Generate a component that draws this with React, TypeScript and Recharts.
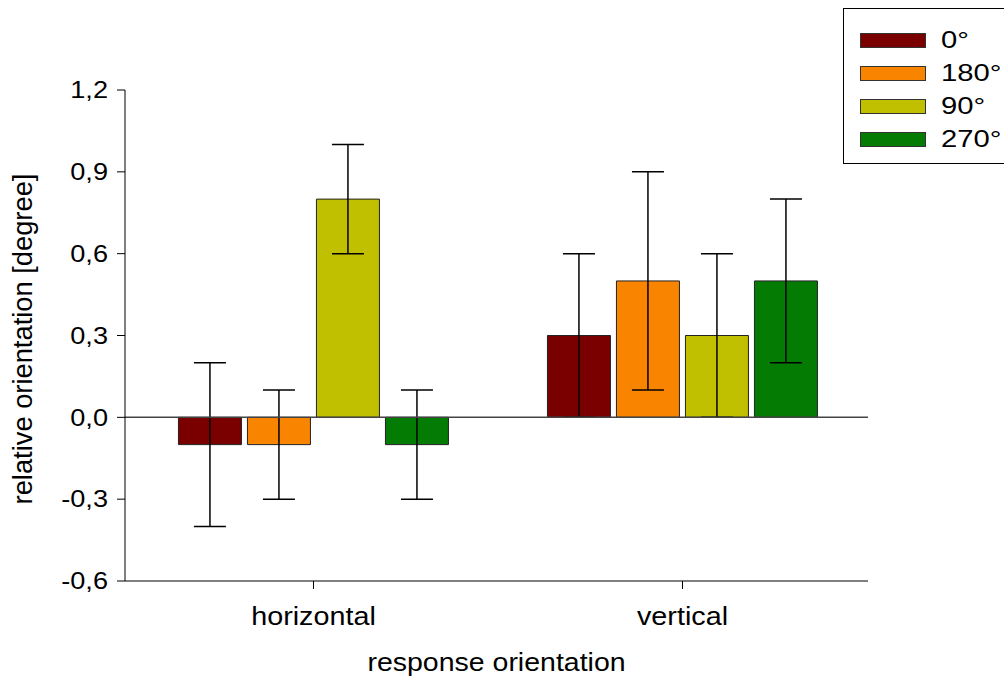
import {
    BarChart, Bar, XAxis, YAxis, ReferenceLine, ErrorBar,
} from "recharts";

const categories = ["horizontal", "vertical"];

const seriesNames = ["0°", "180°", "90°", "270°"];
const seriesColors = ["#7a0000", "#f88400", "#c0c000", "#047c04"];

const means0 = [-0.1, 0.3];
const errors0 = [0.3, 0.3];
const means180 = [-0.1, 0.5];
const errors180 = [0.2, 0.4];
const means90 = [0.8, 0.3];
const errors90 = [0.2, 0.3];
const means270 = [-0.1, 0.5];
const errors270 = [0.2, 0.3];

const yTicks = [-0.6, -0.3, 0, 0.3, 0.6, 0.9, 1.2];

const FONT = '"Liberation Sans", Arial, sans-serif';

const seriesMeans = [means0, means180, means90, means270];
const seriesErrors = [errors0, errors180, errors90, errors270];

const data = categories.map((category, i) => {
    const row: Record<string, string | number> = { category };
    seriesNames.forEach((_name, s) => {
        row[`m${s}`] = seriesMeans[s][i];
        row[`e${s}`] = seriesErrors[s][i];
    });
    return row;
});

function formatTick(v: number) {
    return v.toFixed(1).replace(".", ",");
}

// text drawn a bit wider than the font, like the original export
function WideText({ x, y, anchor, size, sx, dy, children }: any) {
    return (
        <text
            x={0}
            y={0}
            dy={dy}
            transform={`translate(${x},${y}) scale(${sx},1)`}
            textAnchor={anchor}
            fontSize={size}
            fontFamily={FONT}
            fill="#000"
        >
            {children}
        </text>
    );
}

function XTick(props: any) {
    return (
        <WideText x={props.x} y={props.y} anchor="middle" size={25} sx={1.15} dy="0.71em">
            {props.payload.value}
        </WideText>
    );
}

function YTick(props: any) {
    return (
        <WideText x={props.x} y={props.y} anchor="end" size={23} sx={1.18} dy="0.355em">
            {formatTick(props.payload.value)}
        </WideText>
    );
}

function XLabel(props: any) {
    const vb = props.viewBox;
    return (
        <WideText x={vb.x + vb.width / 2} y={vb.y + vb.height - 9} anchor="middle" size={25} sx={1.14}>
            response orientation
        </WideText>
    );
}

function YLabel() {
    return (
        <text
            x={0}
            y={0}
            transform="translate(32,339) rotate(-90)"
            textAnchor="middle"
            fontSize={27.3}
            fontFamily={FONT}
            fill="#000"
        >
            relative orientation [degree]
        </text>
    );
}

function LegendBox() {
    return (
        <div
            style={{
                position: "absolute",
                left: 843,
                top: 8,
                width: 161,
                height: 156,
                boxSizing: "border-box",
                borderTop: "1px solid #000",
                borderLeft: "1px solid #000",
                borderBottom: "1px solid #000",
                background: "#fff",
                fontFamily: FONT,
                overflow: "hidden",
            }}
        >
            {seriesNames.map((name, i) => (
                <div
                    key={name}
                    style={{
                        position: "absolute",
                        left: 16,
                        top: 16 + i * 33,
                        height: 30,
                        display: "flex",
                        alignItems: "center",
                    }}
                >
                    <div
                        style={{
                            width: 64,
                            height: 13,
                            background: seriesColors[i],
                            border: "1px solid #333",
                        }}
                    />
                    <span
                        style={{
                            marginLeft: 15,
                            fontSize: 23,
                            color: "#000",
                            display: "inline-block",
                            transform: "scaleX(1.27)",
                            transformOrigin: "left center",
                        }}
                    >
                        {name}
                    </span>
                </div>
            ))}
        </div>
    );
}

export default function App() {
    return (
        <div style={{ position: "absolute", left: 0, top: 0, width: 1004, height: 680, background: "#fff" }}>
            <BarChart
                width={1004}
                height={680}
                data={data}
                margin={{ top: 90, right: 136, left: 0, bottom: 0 }}
                barCategoryGap="13.4%"
                barGap={6}
                style={{ fontFamily: FONT }}
            >
                <XAxis
                    dataKey="category"
                    height={99}
                    padding={{ left: 4, right: 1 }}
                    stroke="#000"
                    tickSize={8}
                    tickMargin={18}
                    tick={<XTick />}
                    label={{ content: <XLabel /> }}
                />
                <YAxis
                    width={125}
                    domain={[-0.6, 1.2]}
                    ticks={yTicks}
                    interval={0}
                    stroke="#000"
                    tickSize={8}
                    tickMargin={9}
                    tick={<YTick />}
                    label={{ content: <YLabel /> }}
                />
                {seriesNames.map((name, s) => (
                    <Bar
                        key={name}
                        dataKey={`m${s}`}
                        name={name}
                        fill={seriesColors[s]}
                        stroke="#222"
                        strokeWidth={1}
                        isAnimationActive={false}
                    >
                        <ErrorBar dataKey={`e${s}`} width={16} stroke="#000" strokeWidth={1.5} direction="y" />
                    </Bar>
                ))}
                <ReferenceLine y={0} stroke="#444" strokeWidth={1.5} />
            </BarChart>
            <LegendBox />
        </div>
    );
}
